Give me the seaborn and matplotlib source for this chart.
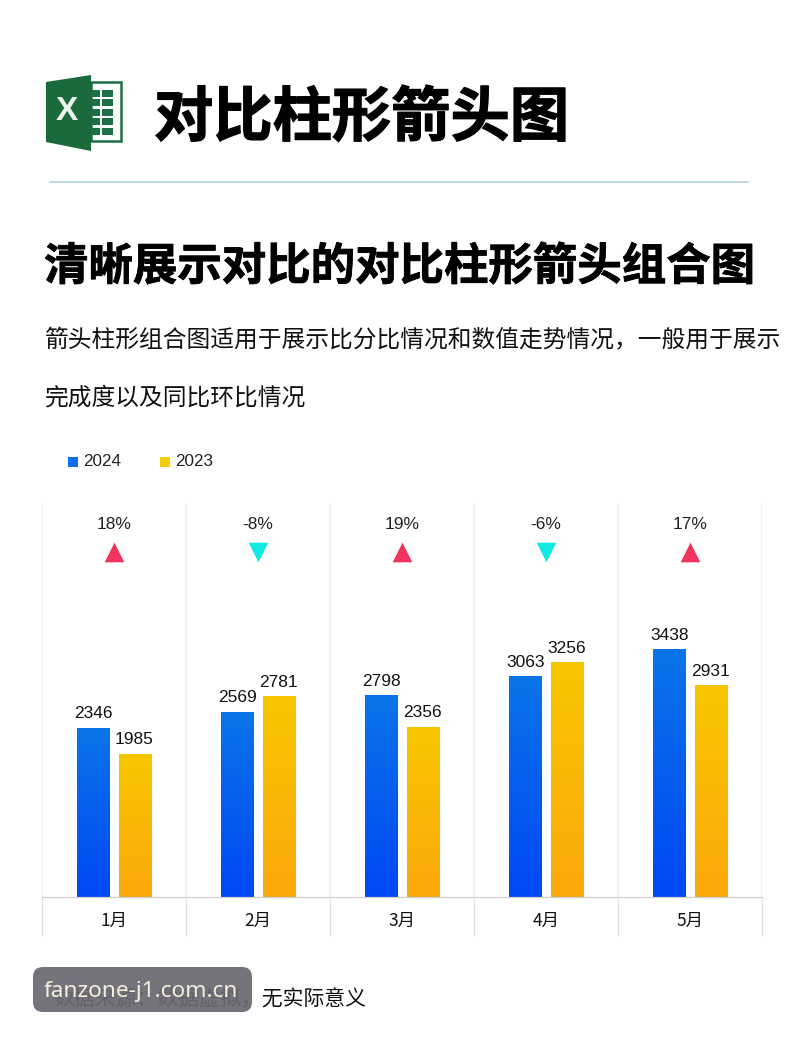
import matplotlib
matplotlib.use("Agg")
import matplotlib.pyplot as plt
import matplotlib.patheffects as pe
from matplotlib.colors import LinearSegmentedColormap
from matplotlib.patches import FancyBboxPatch, Polygon, Rectangle
import numpy as np
import pandas as pd
import seaborn as sns

months = ["1月", "2月", "3月", "4月", "5月"]
values_2024 = [2346, 2569, 2798, 3063, 3438]
values_2023 = [1985, 2781, 2356, 3256, 2931]
change_pct = [18, -8, 19, -6, 17]

sns.set_theme(style="white")
plt.rcParams["font.family"] = ["Noto Sans CJK SC", "DejaVu Sans"]
latin = ["Liberation Sans", "Noto Sans CJK SC"]

df = pd.DataFrame({
    "month": months * 2,
    "year": ["2024"] * 5 + ["2023"] * 5,
    "value": values_2024 + values_2023,
})

fig = plt.figure(figsize=(8, 10.44), dpi=100, facecolor="white")

# overlay in pixel coordinates for header, legend and footer
page = fig.add_axes([0, 0, 1, 1], zorder=0)
page.set_xlim(0, 800)
page.set_ylim(1044, 0)
page.axis("off")

# chart area
ax = fig.add_axes([42 / 800, (1044 - 897) / 1044, 720 / 800, 394 / 1044], zorder=1)
ax.patch.set_alpha(0)
sns.barplot(data=df, x="month", y="value", hue="year", hue_order=["2024", "2023"],
            width=0.57, gap=0.22, palette=["#0a6fe8", "#f9c800"], legend=False, ax=ax)
ax.set_xlim(-0.5, 4.5)
ax.set_ylim(0, 5472)

# vertical gradient on the bars
gradients = [LinearSegmentedColormap.from_list("blue", ["#0a74e8", "#0048f4"]),
             LinearSegmentedColormap.from_list("amber", ["#f8c600", "#fca80c"])]
for container, cmap in zip(ax.containers, gradients):
    for bar in container:
        x0, w, h = bar.get_x(), bar.get_width(), bar.get_height()
        ax.imshow(np.linspace(0, 1, 100).reshape(-1, 1), extent=[x0, x0 + w, 0, h],
                  aspect="auto", cmap=cmap, origin="upper", zorder=2)
        bar.set_alpha(0)
    ax.bar_label(container, labels=[str(int(b.get_height())) for b in container], padding=5,
                 fontsize=12.5, family=latin, color="#111111")
ax.set_xlim(-0.5, 4.5)
ax.set_ylim(0, 5472)

# separators, light above the baseline and darker in the label row
for x in np.arange(-0.5, 5):
    ax.plot([x, x], [0, 1], transform=ax.get_xaxis_transform(), color="#f0f0f3", lw=1.3, zorder=0)
    ax.plot([x, x], [0, -0.096], transform=ax.get_xaxis_transform(), color="#e2e2e6", lw=0.9,
            clip_on=False, zorder=0)

sns.despine(ax=ax, left=True, right=True, top=True)
ax.spines["bottom"].set_color("#cfcfd3")
ax.spines["bottom"].set_linewidth(0.9)
ax.set_xlabel("")
ax.set_ylabel("")
ax.set_yticks([])
ax.tick_params(axis="x", length=0, pad=11, labelsize=12.5, labelcolor="#111111")

# change markers
for i, pct in enumerate(change_pct):
    ax.text(i, 0.9445, f"{pct}%", transform=ax.get_xaxis_transform(), ha="center", va="center",
            fontsize=12.5, family=latin, color="#222222")
    ax.scatter(i, 0.8765, transform=ax.get_xaxis_transform(), s=200,
               marker="^" if pct > 0 else "v",
               color="#f0345c" if pct > 0 else "#0eeae2", linewidths=0, zorder=3)

# Excel icon
page.add_patch(Rectangle((91, 82), 30, 59, fc="white", ec="#1d7044", lw=1.8))
for row in range(5):
    for cx, cw in [(91, 9), (102, 11)]:
        page.add_patch(Rectangle((cx, 90 + row * 9.4), cw, 7, fc="#1d7044", ec="none"))
page.add_patch(Polygon([(46, 82), (91, 75), (91, 151), (46, 142)], fc="#1a6a3c", ec="none"))
page.text(67, 112, "X", color="#eef5ee", fontsize=24, fontweight="bold", ha="center", va="center",
          family=latin)

# header
thick = [pe.withStroke(linewidth=0.9, foreground="black")]
page.text(154, 119, "对比柱形箭头图", fontsize=42.7, fontweight="black", ha="left", va="center",
          color="black", path_effects=thick)
page.plot([50, 748], [182, 182], color="#b3d4e2", lw=1.2)
page.text(44, 267, "清晰展示对比的对比柱形箭头组合图", fontsize=32, fontweight="bold", ha="left",
          va="center", color="black", path_effects=[pe.withStroke(linewidth=0.6, foreground="black")])
page.text(45, 341, "箭头柱形组合图适用于展示比分比情况和数值走势情况，一般用于展示", fontsize=17.1,
          ha="left", va="center", color="#111111")
page.text(45, 398, "完成度以及同比环比情况", fontsize=17.1, ha="left", va="center", color="#111111")

# legend
for sx, colour, year in [(68, "#0a6fe8", "2024"), (160, "#f5cd0a", "2023")]:
    page.add_patch(Rectangle((sx, 457), 10, 10, fc=colour, ec="none"))
    page.text(sx + 15, 462, year, fontsize=12.3, family=latin, ha="left", va="center", color="#222222")

# footer with the watermark tag over it
page.text(53, 1000, "数据来源：数据虚拟，无实际意义", fontsize=15, ha="left", va="center", color="#111111")
page.add_patch(FancyBboxPatch((40, 974), 205, 31, boxstyle="round,pad=7,rounding_size=10",
                              fc="#6b6872", ec="none", alpha=0.93, zorder=4))
page.text(44, 992, "fanzone-j1.com.cn", fontsize=16.3, family=["Noto Sans", "DejaVu Sans"], ha="left", va="center",
          color="#f2f0dc", zorder=5)

fig.savefig("out.png", dpi=100)
